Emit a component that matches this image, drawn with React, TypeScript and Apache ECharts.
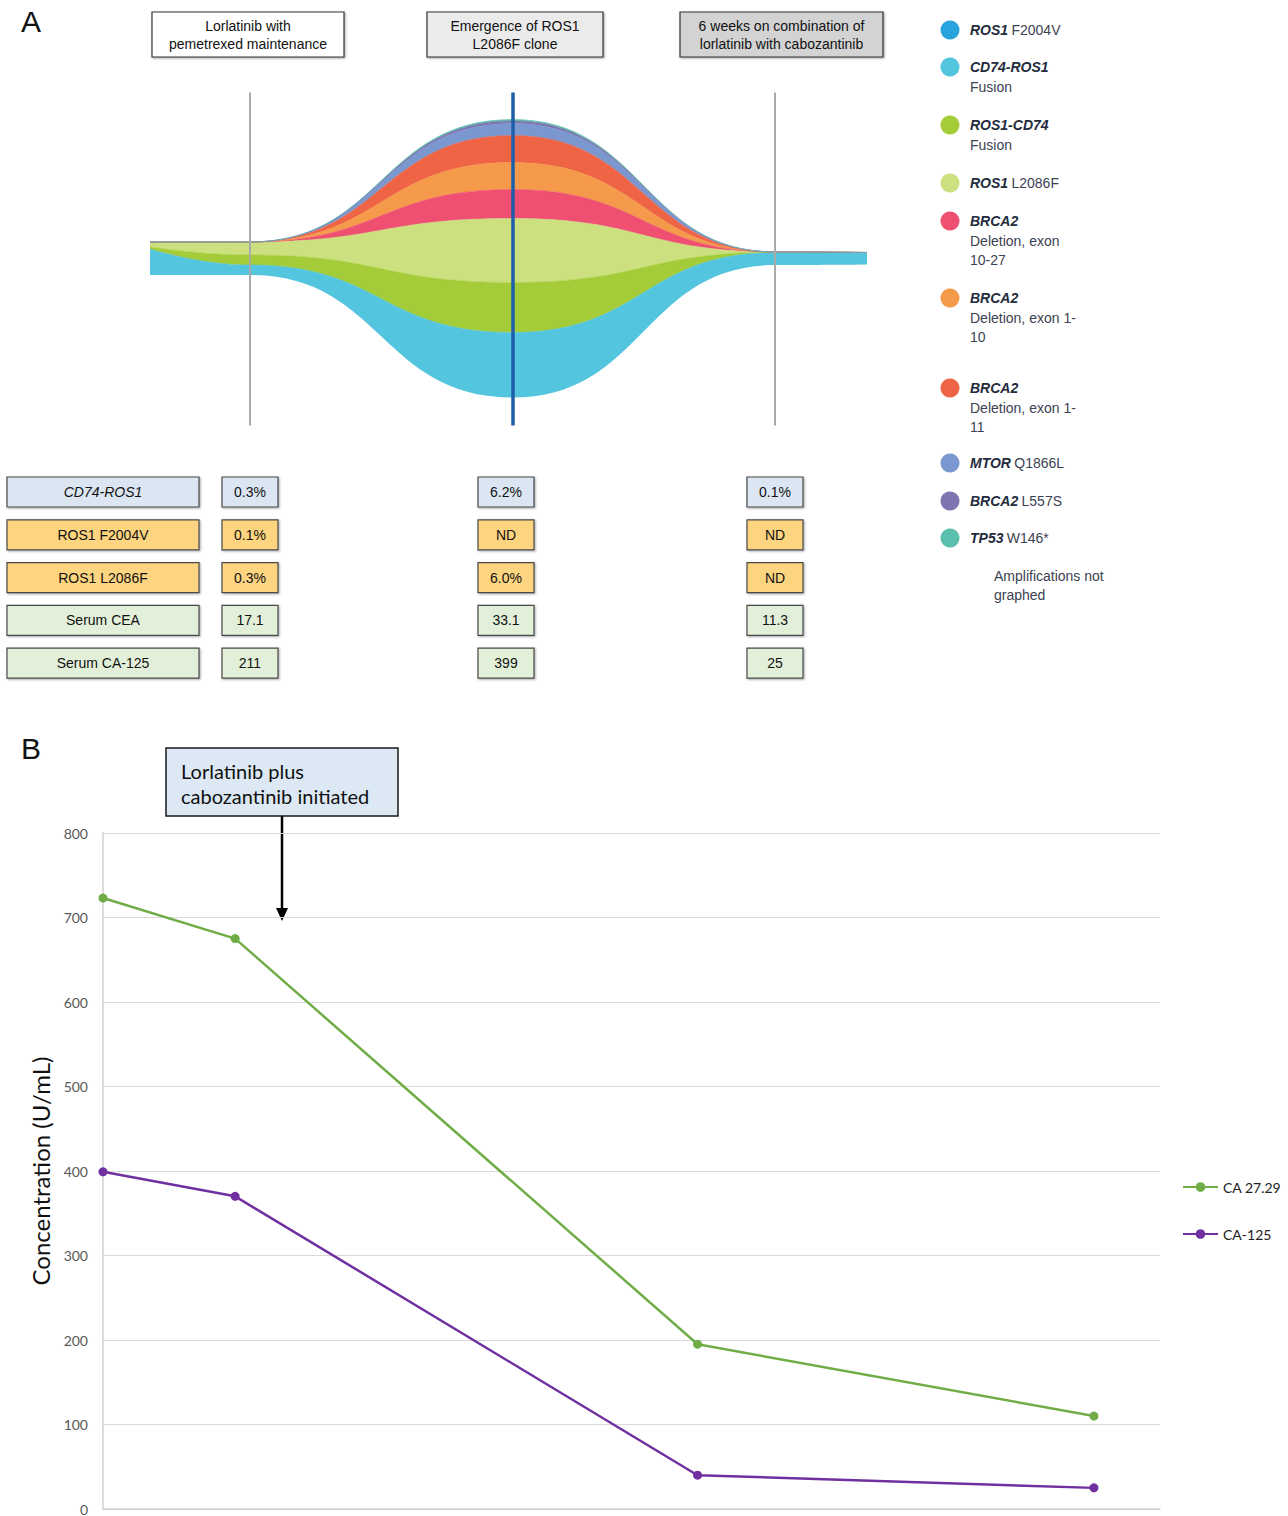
import React, { useEffect, useRef } from "react";
import * as echarts from "echarts";

// ---------- Panel A: fish plot data (relative clone size, stacked and centred) ----------
// time positions in weeks-like units relative to the first marked timepoint
const fishTimes = [-0.38, 0, 1, 2, 2.35];
const fishNames = [
  "CD74-ROS1 Fusion",
  "ROS1-CD74 Fusion",
  "ROS1 L2086F",
  "BRCA2 Deletion, exon 10-27",
  "BRCA2 Deletion, exon 1-10",
  "BRCA2 Deletion, exon 1-11",
  "MTOR Q1866L",
  "BRCA2 L557S",
  "TP53 W146*",
];
const fishCD74ROS1 = [26, 10, 65, 12.5, 12];
const fishROS1CD74 = [2, 10, 50, 0.3, 0];
const fishL2086F = [5, 13, 64, 0.3, 0];
const fishBRCA2ex10_27 = [0, 0, 29, 0, 0];
const fishBRCA2ex1_10 = [0, 0, 27, 0, 0];
const fishBRCA2ex1_11 = [0, 0, 27, 0, 0];
const fishMTOR = [0, 0, 12, 0, 0];
const fishBRCA2L557S = [0, 0, 2.5, 0, 0];
const fishTP53 = [0, 0, 1.5, 0, 0];
const fishCentre = 170;
const fishMarkTimes = [0, 1, 2];

// header labels
const headerTexts = [
  "Lorlatinib with\npemetrexed maintenance",
  "Emergence of ROS1\nL2086F clone",
  "6 weeks on combination of\nlorlatinib with cabozantinib",
];

// clone legend
const legendGenes = ["ROS1", "CD74-ROS1", "ROS1-CD74", "ROS1", "BRCA2", "BRCA2", "BRCA2", "MTOR", "BRCA2", "TP53"];
const legendVariants = [
  "F2004V",
  "Fusion",
  "Fusion",
  "L2086F",
  "Deletion, exon\n10-27",
  "Deletion, exon 1-\n10",
  "Deletion, exon 1-\n11",
  "Q1866L",
  "L557S",
  "W146*",
];
const legendInline = [true, false, false, true, false, false, false, true, true, true];
const legendNote = "Amplifications not\ngraphed";

// table
const tableLabels = ["CD74-ROS1", "ROS1 F2004V", "ROS1 L2086F", "Serum CEA", "Serum CA-125"];
const tableCol1 = ["0.3%", "0.1%", "0.3%", "17.1", "211"];
const tableCol2 = ["6.2%", "ND", "6.0%", "33.1", "399"];
const tableCol3 = ["0.1%", "ND", "ND", "11.3", "25"];

// ---------- Panel B ----------
const markerDays = [0, 30, 135, 225];
const ca2729 = [723, 675, 195, 110];
const ca125 = [399, 370, 40, 25];
const yTicks = [0, 100, 200, 300, 400, 500, 600, 700, 800];
const annotationText = "Lorlatinib plus\ncabozantinib initiated";

const UNIT = 7 * 24 * 3600 * 1000; // one time unit on the (hidden) time axis

export default function App() {
  const ref = useRef<HTMLDivElement>(null);

  useEffect(() => {
    if (!ref.current) return;
    const chart = echarts.init(ref.current, undefined, { renderer: "svg" });

    const bands = [
      fishCD74ROS1,
      fishROS1CD74,
      fishL2086F,
      fishBRCA2ex10_27,
      fishBRCA2ex1_10,
      fishBRCA2ex1_11,
      fishMTOR,
      fishBRCA2L557S,
      fishTP53,
    ];
    const bandColors = ["#54c5df", "#a3cc38", "#cde07f", "#ef5072", "#f59a4a", "#ef6445", "#7b97cf", "#7d74b0", "#5bbfad"];
    const totals = fishTimes.map((_, i) => bands.reduce((s, b) => s + b[i], 0));

    const fishSeries: any[] = [
      {
        type: "line",
        xAxisIndex: 0,
        yAxisIndex: 0,
        stack: "fish",
        data: fishTimes.map((t, i) => [t * UNIT, fishCentre - totals[i] / 2]),
        symbol: "none",
        smooth: 0.5,
        smoothMonotone: "x",
        lineStyle: { width: 0, opacity: 0 },
        silent: true,
      },
    ];
    bands.forEach((b, k) => {
      fishSeries.push({
        name: fishNames[k],
        type: "line",
        xAxisIndex: 0,
        yAxisIndex: 0,
        stack: "fish",
        data: fishTimes.map((t, i) => [t * UNIT, b[i]]),
        symbol: "none",
        smooth: 0.5,
        smoothMonotone: "x",
        lineStyle: { width: 0.6, color: bandColors[k] },
        areaStyle: { color: bandColors[k], opacity: 1 },
        silent: true,
      });
    });
    fishSeries.push({
      type: "line",
      xAxisIndex: 0,
      yAxisIndex: 0,
      data: [],
      z: 10,
      silent: true,
      markLine: {
        silent: true,
        symbol: ["none", "none"],
        label: { show: false },
        data: fishMarkTimes.map((t) => [
          {
            coord: [t * UNIT, 3],
            lineStyle: t === 1 ? { color: "#1f5ea8", width: 3.5, type: "solid" } : { color: "#a9a9a9", width: 2, type: "solid" },
          },
          { coord: [t * UNIT, 336] },
        ]),
      },
    });

    const g: any[] = [];
    const fontA = "'Liberation Sans', Arial, sans-serif";
    // panel letters
    g.push({ type: "text", style: { text: "A", x: 21, y: 6, font: "30px " + fontA, fill: "#111", textVerticalAlign: "top", verticalAlign: "top" } });
    g.push({ type: "text", style: { text: "B", x: 21, y: 733, font: "30px " + fontA, fill: "#111", textVerticalAlign: "top", verticalAlign: "top" } });

    // header boxes
    const headerBoxes = [
      { x: 152, w: 192, fill: "#ffffff" },
      { x: 427, w: 176, fill: "#ebebeb" },
      { x: 680, w: 203, fill: "#d3d3d3" },
    ];
    headerBoxes.forEach((b, i) => {
      g.push({
        type: "rect",
        shape: { x: b.x, y: 12, width: b.w, height: 45 },
        style: { fill: b.fill, stroke: "#333", lineWidth: 1.2, shadowBlur: 2, shadowColor: "rgba(0,0,0,0.35)", shadowOffsetX: 1, shadowOffsetY: 1 },
      });
      g.push({
        type: "text",
        style: {
          text: headerTexts[i],
          x: b.x + b.w / 2,
          y: 34.5,
          font: "14px " + fontA,
          fill: "#111",
          lineHeight: 18,
          textAlign: "center",
          align: "center",
          textVerticalAlign: "middle",
          verticalAlign: "middle",
        },
      });
    });

    // clone legend
    const legendColors = ["#29a3dd", "#54c5df", "#a3cc38", "#cde07f", "#ef5072", "#f59a4a", "#ef6445", "#7b97cf", "#7d74b0", "#5bbfad"];
    const legendYs = [30, 67, 125, 183, 221, 298, 388, 463, 501, 538];
    legendGenes.forEach((gene, i) => {
      const y = legendYs[i];
      g.push({ type: "circle", shape: { cx: 950, cy: y, r: 9.5 }, style: { fill: legendColors[i] } });
      const text = legendInline[i]
        ? `{g|${gene}} {v|${legendVariants[i]}}`
        : `{g|${gene}}\n` + legendVariants[i].split("\n").map((l) => `{v|${l}}`).join("\n");
      g.push({
        type: "text",
        style: {
          text,
          x: 970,
          y: y - 9.75,
          textVerticalAlign: "top",
          verticalAlign: "top",
          rich: {
            g: { fontFamily: fontA, fontSize: 14, fontWeight: "bold", fontStyle: "italic", fill: "#232b3d", color: "#232b3d", lineHeight: 19.5 },
            v: { fontFamily: fontA, fontSize: 14, fill: "#3b4252", color: "#3b4252", lineHeight: 19.5 },
          },
        },
      });
    });
    g.push({
      type: "text",
      style: {
        text: legendNote,
        x: 994,
        y: 566,
        font: "14px " + fontA,
        fill: "#3b4252",
        lineHeight: 19.5,
        textVerticalAlign: "top",
        verticalAlign: "top",
      },
    });

    // table
    const rowFill = ["#dce6f2", "#fdd47f", "#fdd47f", "#e3f0d9", "#e3f0d9"];
    const boxStyle = (fill: string) => ({
      fill,
      stroke: "#4a4a4a",
      lineWidth: 1.2,
      shadowBlur: 2,
      shadowColor: "rgba(0,0,0,0.35)",
      shadowOffsetX: 1,
      shadowOffsetY: 1,
    });
    const cols = [tableCol1, tableCol2, tableCol3];
    const colX = [250, 506, 775];
    tableLabels.forEach((lab, r) => {
      const cy = 492 + r * 42.8;
      g.push({ type: "rect", shape: { x: 7, y: cy - 15, width: 192, height: 30 }, style: boxStyle(rowFill[r]) });
      g.push({
        type: "text",
        style: {
          text: lab,
          x: 103,
          y: cy,
          font: (r === 0 ? "italic " : "") + "14px " + fontA,
          fill: "#111",
          textAlign: "center",
          align: "center",
          textVerticalAlign: "middle",
          verticalAlign: "middle",
        },
      });
      cols.forEach((col, c) => {
        g.push({ type: "rect", shape: { x: colX[c] - 28, y: cy - 15, width: 56, height: 30 }, style: boxStyle(rowFill[r]) });
        g.push({
          type: "text",
          style: {
            text: col[r],
            x: colX[c],
            y: cy,
            font: "14px " + fontA,
            fill: "#111",
            textAlign: "center",
            align: "center",
            textVerticalAlign: "middle",
            verticalAlign: "middle",
          },
        });
      });
    });

    // annotation panel B
    g.push({
      type: "rect",
      shape: { x: 166, y: 748, width: 232, height: 68 },
      style: { fill: "#dce9f5", stroke: "#1a1a1a", lineWidth: 1.5 },
    });
    g.push({
      type: "text",
      style: {
        text: annotationText,
        x: 181,
        y: 758.5,
        font: "20px Lato, 'Open Sans', sans-serif",
        fill: "#111",
        lineHeight: 25,
        textVerticalAlign: "top",
        verticalAlign: "top",
      },
    });
    g.push({ type: "line", shape: { x1: 282, y1: 816, x2: 282, y2: 910 }, style: { stroke: "#000", lineWidth: 2.5 } });
    g.push({ type: "polygon", shape: { points: [[276, 908], [288, 908], [282, 921]] }, style: { fill: "#000" } });

    const fontB = "Lato, 'Open Sans', sans-serif";

    chart.setOption({
      animation: false,
      backgroundColor: "#ffffff",
      grid: [
        { left: 150, width: 717, top: 88.5, height: 340 },
        { left: 103, right: 128, top: 833, bottom: 7 },
      ],
      xAxis: [
        { gridIndex: 0, type: "time", min: fishTimes[0] * UNIT, max: fishTimes[fishTimes.length - 1] * UNIT, show: false },
        {
          gridIndex: 1,
          type: "value",
          min: 0,
          max: 240,
          axisLine: { show: true, lineStyle: { color: "#cfcfcf", width: 1.5 } },
          axisTick: { show: false },
          axisLabel: { show: false },
          splitLine: { show: false },
        },
      ],
      yAxis: [
        { gridIndex: 0, type: "value", min: 0, max: 340, show: false },
        {
          gridIndex: 1,
          type: "value",
          min: yTicks[0],
          max: yTicks[yTicks.length - 1],
          interval: yTicks[1] - yTicks[0],
          name: "Concentration (U/mL)",
          nameLocation: "middle",
          nameGap: 50,
          nameTextStyle: { fontSize: 24, fontFamily: fontB, color: "#111" },
          axisLine: { show: true, lineStyle: { color: "#d0d0d0", width: 1.5 } },
          axisTick: { show: false },
          axisLabel: { color: "#595959", fontSize: 14, fontFamily: fontB, margin: 15 },
          splitLine: { lineStyle: { color: "#d9d9d9", width: 1.2 } },
        },
      ],
      legend: {
        data: ["CA 27.29", "CA-125"],
        orient: "vertical",
        left: 1177,
        top: 1175,
        itemWidth: 35,
        itemHeight: 12,
        itemGap: 33,
        textStyle: { fontSize: 14, fontFamily: fontB, color: "#222" },
      },
      series: [
        ...fishSeries,
        {
          name: "CA 27.29",
          type: "line",
          xAxisIndex: 1,
          yAxisIndex: 1,
          data: markerDays.map((d, i) => [d, ca2729[i]]),
          symbol: "circle",
          symbolSize: 9,
          lineStyle: { width: 2.5, color: "#70ad47" },
          itemStyle: { color: "#70ad47" },
        },
        {
          name: "CA-125",
          type: "line",
          xAxisIndex: 1,
          yAxisIndex: 1,
          data: markerDays.map((d, i) => [d, ca125[i]]),
          symbol: "circle",
          symbolSize: 9,
          lineStyle: { width: 2.5, color: "#7030a0" },
          itemStyle: { color: "#7030a0" },
        },
      ],
      graphic: g,
    });

    return () => chart.dispose();
  }, []);

  return (
    <div
      ref={ref}
      style={{ position: "absolute", left: 0, top: 0, width: 1288, height: 1516, background: "#fff" }}
    />
  );
}
